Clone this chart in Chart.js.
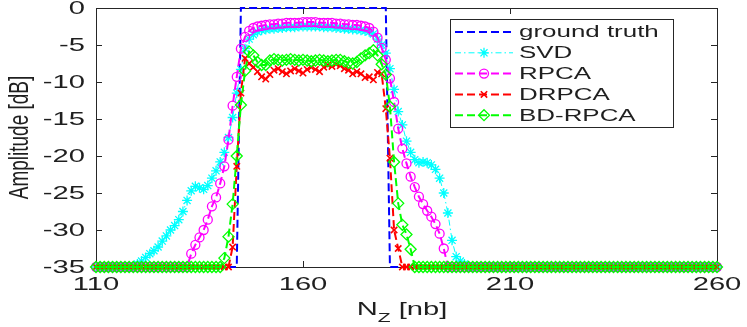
<!DOCTYPE html>
<html>
<head>
<meta charset="utf-8">
<script src="https://cdn.jsdelivr.net/npm/chart.js@4.4.0/dist/chart.umd.min.js"></script>
<style>
  html, body { margin: 0; padding: 0; background: #fff; }
  #wrap { width: 747px; height: 327px; }
</style>
</head>
<body>
<div id="wrap"><canvas id="chart" width="747" height="327"></canvas></div>
<script>
// Eje X: N_Z [nb], un punto por cada valor
const nz = [
  110, 111, 112, 113, 114, 115, 116, 117, 118, 119,
  120, 121, 122, 123, 124, 125, 126, 127, 128, 129,
  130, 131, 132, 133, 134, 135, 136, 137, 138, 139,
  140, 141, 142, 143, 144, 145, 146, 147, 148, 149,
  150, 151, 152, 153, 154, 155, 156, 157, 158, 159,
  160, 161, 162, 163, 164, 165, 166, 167, 168, 169,
  170, 171, 172, 173, 174, 175, 176, 177, 178, 179,
  180, 181, 182, 183, 184, 185, 186, 187, 188, 189,
  190, 191, 192, 193, 194, 195, 196, 197, 198, 199,
  200, 201, 202, 203, 204, 205, 206, 207, 208, 209,
  210, 211, 212, 213, 214, 215, 216, 217, 218, 219,
  220, 221, 222, 223, 224, 225, 226, 227, 228, 229,
  230, 231, 232, 233, 234, 235, 236, 237, 238, 239,
  240, 241, 242, 243, 244, 245, 246, 247, 248, 249,
  250, 251, 252, 253, 254, 255, 256, 257, 258, 259,
  260
];

const xTicks = [110, 160, 210, 260];
const yTicks = [0, -5, -10, -15, -20, -25, -30, -35];

// Amplitud [dB] de cada serie (filas de 10 valores, empezando en 110, 120, ...)
const groundTruth = [
  -35, -35, -35, -35, -35, -35, -35, -35, -35, -35,
  -35, -35, -35, -35, -35, -35, -35, -35, -35, -35,
  -35, -35, -35, -35, -35, -35, -35, -35, -35, -35,
  -35, -35, -35, -35, -35, 0, 0, 0, 0, 0,
  0, 0, 0, 0, 0, 0, 0, 0, 0, 0,
  0, 0, 0, 0, 0, 0, 0, 0, 0, 0,
  0, 0, 0, 0, 0, 0, 0, 0, 0, 0,
  0, -35, -35, -35, -35, -35, -35, -35, -35, -35,
  -35, -35, -35, -35, -35, -35, -35, -35, -35, -35,
  -35, -35, -35, -35, -35, -35, -35, -35, -35, -35,
  -35, -35, -35, -35, -35, -35, -35, -35, -35, -35,
  -35, -35, -35, -35, -35, -35, -35, -35, -35, -35,
  -35, -35, -35, -35, -35, -35, -35, -35, -35, -35,
  -35, -35, -35, -35, -35, -35, -35, -35, -35, -35,
  -35, -35, -35, -35, -35, -35, -35, -35, -35, -35,
  -35
];

const svd = [
  -35, -35, -35, -35, -35, -35, -35, -35, -35, -35,
  -34.6, -34.2, -33.7, -33.2, -32.8, -32.3, -31.5, -30.8, -30.0, -29.4,
  -28.6, -27.5, -26.0, -24.7, -24.1, -24.3, -24.5, -24.0, -23.0, -22.0,
  -20.8, -19.5, -17.5, -14.8, -11.5, -8.3, -5.5, -4.2, -3.6, -3.2,
  -3.0, -2.9, -2.8, -2.8, -2.7, -2.7, -2.6, -2.6, -2.6, -2.5,
  -2.5, -2.5, -2.5, -2.5, -2.5, -2.6, -2.6, -2.6, -2.7, -2.7,
  -2.8, -2.8, -2.9, -2.9, -3.0, -3.1, -3.2, -3.5, -4.2, -5.0,
  -6.1, -8.2, -11.0, -14.0, -15.8, -18.0, -19.5, -20.5, -20.9, -20.8,
  -20.9, -21.2, -21.8, -23.0, -25.0, -27.7, -31.4, -33.6, -34.2, -34.6,
  -35, -35, -35, -35, -35, -35, -35, -35, -35, -35,
  -35, -35, -35, -35, -35, -35, -35, -35, -35, -35,
  -35, -35, -35, -35, -35, -35, -35, -35, -35, -35,
  -35, -35, -35, -35, -35, -35, -35, -35, -35, -35,
  -35, -35, -35, -35, -35, -35, -35, -35, -35, -35,
  -35, -35, -35, -35, -35, -35, -35, -35, -35, -35,
  -35
];

const rpca = [
  -35, -35, -35, -35, -35, -35, -35, -35, -35, -35,
  -35, -35, -35, -35, -35, -35, -35, -35, -35, -35,
  -35, -35, -35, -33.2, -32.0, -31.0, -30.0, -28.6, -26.8, -25.6,
  -23.7, -21.4, -17.8, -13.2, -9.3, -5.5, -3.9, -3.1, -2.7, -2.5,
  -2.4, -2.3, -2.2, -2.2, -2.1, -2.1, -2.0, -2.0, -2.0, -2.0,
  -1.9, -1.9, -1.9, -1.9, -2.0, -2.0, -2.0, -2.0, -2.1, -2.1,
  -2.2, -2.2, -2.3, -2.3, -2.4, -2.5, -2.7, -3.2, -4.0, -5.4,
  -7.0, -9.5, -12.7, -16.3, -19.0, -21.0, -22.8, -24.2, -25.5, -26.5,
  -27.4, -28.2, -29.2, -30.5, -32.5, -35, -35, -35, -35, -35,
  -35, -35, -35, -35, -35, -35, -35, -35, -35, -35,
  -35, -35, -35, -35, -35, -35, -35, -35, -35, -35,
  -35, -35, -35, -35, -35, -35, -35, -35, -35, -35,
  -35, -35, -35, -35, -35, -35, -35, -35, -35, -35,
  -35, -35, -35, -35, -35, -35, -35, -35, -35, -35,
  -35, -35, -35, -35, -35, -35, -35, -35, -35, -35,
  -35
];

const drpca = [
  -35, -35, -35, -35, -35, -35, -35, -35, -35, -35,
  -35, -35, -35, -35, -35, -35, -35, -35, -35, -35,
  -35, -35, -35, -35, -35, -35, -35, -35, -35, -35,
  -35, -35, -35, -32.3, -21.4, -11.5, -6.8, -7.5, -8.0, -8.6,
  -9.3, -9.6, -9.0, -8.4, -8.2, -8.6, -8.9, -8.5, -8.2, -8.5,
  -8.8, -8.3, -8.0, -8.3, -8.6, -8.0, -7.7, -7.9, -7.6, -7.8,
  -8.2, -8.4, -8.9, -8.6, -8.9, -9.4, -9.3, -9.7, -8.7, -8.9,
  -13.6, -20.3, -30.0, -32.5, -35, -35, -35, -35, -35, -35,
  -35, -35, -35, -35, -35, -35, -35, -35, -35, -35,
  -35, -35, -35, -35, -35, -35, -35, -35, -35, -35,
  -35, -35, -35, -35, -35, -35, -35, -35, -35, -35,
  -35, -35, -35, -35, -35, -35, -35, -35, -35, -35,
  -35, -35, -35, -35, -35, -35, -35, -35, -35, -35,
  -35, -35, -35, -35, -35, -35, -35, -35, -35, -35,
  -35, -35, -35, -35, -35, -35, -35, -35, -35, -35,
  -35
];

const bdRpca = [
  -35, -35, -35, -35, -35, -35, -35, -35, -35, -35,
  -35, -35, -35, -35, -35, -35, -35, -35, -35, -35,
  -35, -35, -35, -35, -35, -35, -35, -35, -35, -35,
  -35, -33.8, -30.9, -26.5, -20.0, -13.1, -8.5, -5.9, -6.4, -7.3,
  -7.7, -7.7, -7.1, -6.9, -7.0, -7.1, -7.0, -6.9, -7.0, -7.1,
  -7.0, -7.1, -7.2, -7.1, -7.0, -7.1, -7.2, -7.1, -7.0, -7.0,
  -7.2, -7.4, -7.5, -7.3, -6.8, -6.4, -6.1, -5.7, -6.4, -7.6,
  -9.0, -13.3, -20.8, -26.4, -29.3, -30.6, -32.6, -35, -35, -35,
  -35, -35, -35, -35, -35, -35, -35, -35, -35, -35,
  -35, -35, -35, -35, -35, -35, -35, -35, -35, -35,
  -35, -35, -35, -35, -35, -35, -35, -35, -35, -35,
  -35, -35, -35, -35, -35, -35, -35, -35, -35, -35,
  -35, -35, -35, -35, -35, -35, -35, -35, -35, -35,
  -35, -35, -35, -35, -35, -35, -35, -35, -35, -35,
  -35, -35, -35, -35, -35, -35, -35, -35, -35, -35,
  -35
];

const FONT = "'Liberation Sans', Arial, sans-serif";
const TEXT_COLOR = '#1f1f1f';
const STRETCH = 1.62; // el texto del original sale ensanchado

const toPoints = (values) => values.map((v, i) => ({ x: nz[i], y: v }));

const makeSet = (label, values, color, extra) => Object.assign({
  label: label,
  data: toPoints(values),
  borderColor: color,
  backgroundColor: 'rgba(0,0,0,0)',
  pointBorderColor: color,
  pointBackgroundColor: 'rgba(0,0,0,0)',
  borderWidth: 2,
  borderDash: [8, 4],
  pointBorderWidth: 1.3,
  tension: 0,
  clip: false
}, extra);

//Texto ensanchado horizontalmente
const stretchText = (ctx, str, x, y, size, align, baseline) => {
  ctx.save();
  ctx.translate(x, y);
  ctx.scale(STRETCH, 1);
  ctx.font = `${size}px ${FONT}`;
  ctx.textAlign = align;
  ctx.textBaseline = baseline;
  ctx.fillStyle = TEXT_COLOR;
  ctx.fillText(str, 0, 0);
  ctx.restore();
};

const line = (ctx, x1, y1, x2, y2) => {
  ctx.beginPath();
  ctx.moveTo(x1, y1);
  ctx.lineTo(x2, y2);
  ctx.stroke();
};

const axesPlugin = {
  id: 'axesPlugin',
  beforeDatasetsDraw(chart) {
    const { ctx, chartArea: a, scales: { x, y } } = chart;
    ctx.save();
    ctx.strokeStyle = '#262626';
    ctx.lineWidth = 1;
    ctx.strokeRect(a.left + 0.5, a.top + 0.5, a.right - a.left, a.bottom - a.top);

    xTicks.forEach(v => {
      const px = Math.round(x.getPixelForValue(v)) + 0.5;
      line(ctx, px, a.bottom, px, a.bottom - 6);
      line(ctx, px, a.top, px, a.top + 6);
    });
    yTicks.forEach(v => {
      const py = Math.round(y.getPixelForValue(v)) + 0.5;
      line(ctx, a.left, py, a.left + 6, py);
      line(ctx, a.right, py, a.right - 6, py);
    });
    ctx.restore();
  },
  afterDraw(chart) {
    const { ctx, chartArea: a, scales: { x, y } } = chart;

    //Etiquetas de los ejes
    xTicks.forEach(v => stretchText(ctx, String(v), x.getPixelForValue(v), 290, 18, 'center', 'alphabetic'));
    yTicks.forEach(v => stretchText(ctx, String(v), 85, y.getPixelForValue(v) + 1, 18, 'right', 'middle'));

    //Titulo eje Y
    ctx.save();
    ctx.translate(20, (a.top + a.bottom) / 2);
    ctx.scale(1.5, 1);
    ctx.rotate(-Math.PI / 2);
    ctx.font = `19px ${FONT}`;
    ctx.textAlign = 'center';
    ctx.textBaseline = 'middle';
    ctx.fillStyle = TEXT_COLOR;
    ctx.fillText('Amplitude [dB]', 0, 0);
    ctx.restore();

    //Titulo eje X con subindice
    ctx.save();
    ctx.font = `18px ${FONT}`;
    const wN = ctx.measureText('N').width * STRETCH;
    const wRest = ctx.measureText(' [nb]').width * STRETCH;
    ctx.font = `13px ${FONT}`;
    const wZ = ctx.measureText('Z').width * STRETCH;
    ctx.restore();
    const start = 402 - (wN + wZ + wRest) / 2;
    stretchText(ctx, 'N', start, 315, 18, 'left', 'alphabetic');
    stretchText(ctx, 'Z', start + wN, 322, 13, 'left', 'alphabetic');
    stretchText(ctx, ' [nb]', start + wN + wZ, 315, 18, 'left', 'alphabetic');

    //Leyenda
    const box = { left: 450, top: 19, right: 673, bottom: 127 };
    ctx.save();
    ctx.fillStyle = '#ffffff';
    ctx.fillRect(box.left, box.top, box.right - box.left, box.bottom - box.top);
    ctx.strokeStyle = '#262626';
    ctx.lineWidth = 1;
    ctx.strokeRect(box.left + 0.5, box.top + 0.5, box.right - box.left, box.bottom - box.top);
    ctx.restore();

    chart.data.datasets.forEach((ds, i) => {
      const rowY = 32 + i * 20.8;
      ctx.save();
      ctx.strokeStyle = ds.borderColor;
      ctx.lineWidth = ds.borderWidth;
      ctx.setLineDash(ds.borderDash);
      line(ctx, 455, rowY, 513, rowY);
      ctx.setLineDash([]);
      if (ds.pointRadius > 0) {
        ctx.fillStyle = 'rgba(0,0,0,0)';
        ctx.lineWidth = ds.pointBorderWidth;
        Chart.helpers.drawPoint(ctx, {
          pointStyle: ds.pointStyle,
          radius: ds.pointRadius,
          rotation: 0,
          borderWidth: ds.pointBorderWidth
        }, 484, rowY);
      }
      ctx.restore();
      stretchText(ctx, ds.label, 519, rowY + 1, 16, 'left', 'middle');
    });
  }
};

const datasets = [
  makeSet('ground truth', groundTruth, '#0000ff', { pointRadius: 0, order: 4 }),
  makeSet('SVD', svd, '#00ffff', { borderWidth: 1, borderDash: [6, 3, 1.5, 3], pointStyle: 'star', pointRadius: 5, order: 3 }),
  makeSet('RPCA', rpca, '#ff00ff', { pointStyle: 'circle', pointRadius: 4.5, order: 2 }),
  makeSet('DRPCA', drpca, '#ff0000', { pointStyle: 'crossRot', pointRadius: 4.5, pointBorderWidth: 1.6, order: 1 }),
  makeSet('BD-RPCA', bdRpca, '#00ff00', { pointStyle: 'rectRot', pointRadius: 5.5, order: 0 })
];

new Chart(document.querySelector('#chart'), {
  type: 'line',
  data: { datasets: datasets },
  options: {
    responsive: false,
    animation: false,
    layout: { padding: { left: 96, right: 30, top: 8, bottom: 60 } },
    plugins: { legend: { display: false }, tooltip: { enabled: false } },
    scales: {
      x: { type: 'linear', min: 110, max: 260, display: false },
      y: { type: 'linear', min: -35, max: 0, display: false }
    }
  },
  plugins: [axesPlugin]
});
</script>
</body>
</html>
